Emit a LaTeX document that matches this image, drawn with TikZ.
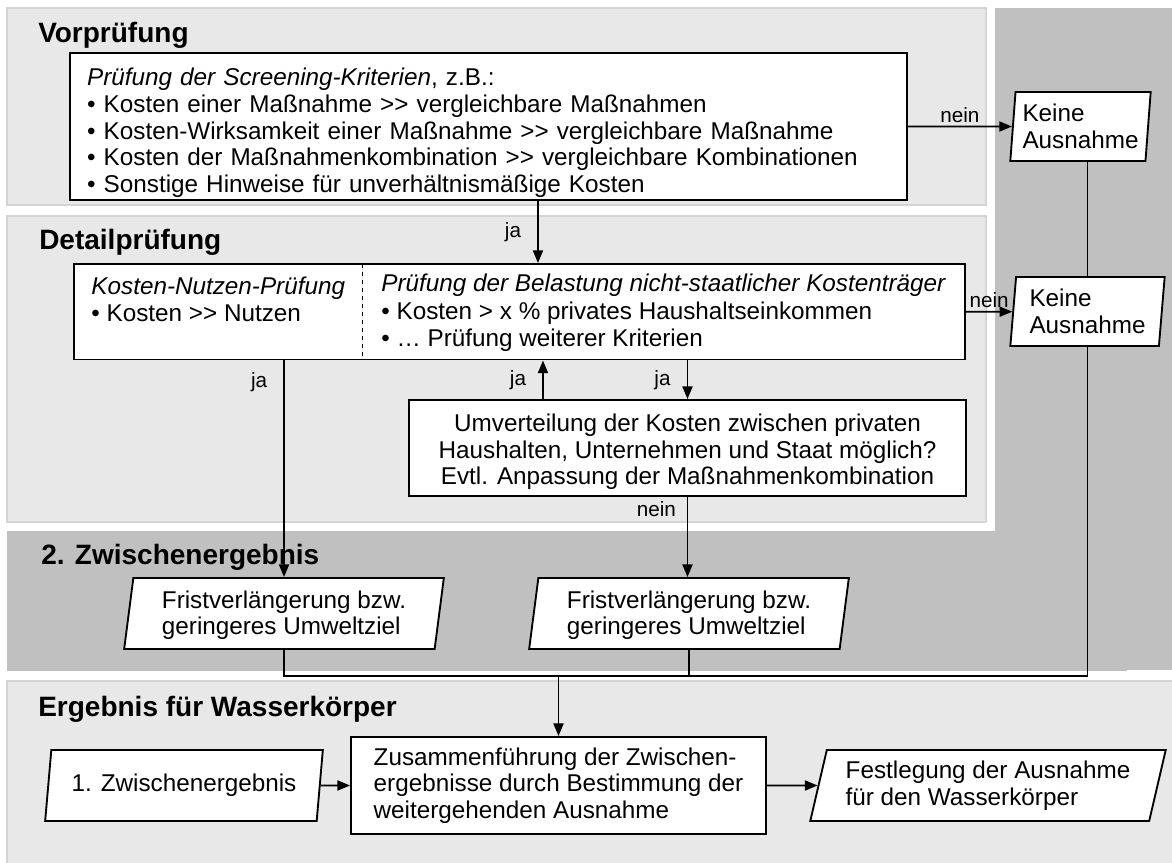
\documentclass[tikz,border=0pt]{standalone}
\usepackage{fontspec}
\setmainfont{Liberation Sans}
\usepackage{tikz}
\usetikzlibrary{arrows.meta,shapes.geometric,fit,calc}
\definecolor{panel}{HTML}{E8E8E8}
\definecolor{panelline}{HTML}{D4D4D4}
\definecolor{dark}{HTML}{C0C0C0}
\newcommand{\grgr}{>{}>}
\tikzset{
  pnl/.style={fill=panel, draw=panelline, line width=0.8pt},
  pnldark/.style={fill=dark, draw=none},
  ttl/.style={anchor=west, inner sep=0pt, font=\fontsize{21}{25}\selectfont\bfseries},
  box/.style={draw=black, fill=white, line width=1.4pt, inner sep=0pt, font=\fontsize{18.2}{20}\selectfont},
  txt/.style={fill=white, inner sep=0pt, align=left, font=\fontsize{18.2}{20.5}\selectfont},
  para/.style 2 args={box, trapezium, trapezium stretches=true, trapezium left angle=#1, trapezium right angle=#2, align=left},
  ln/.style={draw=black, line width=1.4pt},
  arr/.style={ln, -{Triangle[length=9.5pt,width=7.5pt]}},
  lab/.style={inner sep=2pt, font=\fontsize{15.5}{17}\selectfont},
}
\begin{document}
\begin{tikzpicture}[x=0.75pt, y=-0.75pt]
  \useasboundingbox (0,0) rectangle (1172,863);
  \fill[pnldark] (995,8) rectangle (1172,670);
  \fill[pnldark] (7,531) rectangle (1127,671);
  \draw[pnl] (7,8) rectangle (986,205);
  \draw[pnl] (7,216) rectangle (986,522);
  \draw[pnl] (7,681) rectangle (1180,870);

  \node[ttl] (tvor) at (38,35) {Vorprüfung};
  \node[ttl] (tdet) at (39,242) {Detailprüfung};
  \node[ttl] (tzw) at (41,557) {2. Zwischenergebnis};
  \node[ttl] (terg) at (38,709) {Ergebnis für Wasserkörper};

  \node[box, align=left, text width=602pt, inner xsep=12.75pt, minimum height=110.25pt] (vor) at (488.5,126.5)
    {\rule{0pt}{23pt}\textit{Prüfung der Screening-Kriterien}, z.B.:\\
     • Kosten einer Maßnahme \grgr{} vergleichbare Maßnahmen\\
     • Kosten-Wirksamkeit einer Maßnahme \grgr{} vergleichbare Maßnahme\\
     • Kosten der Maßnahmenkombination \grgr{} vergleichbare Kombinationen\\
     • Sonstige Hinweise für unverhältnismäßige Kosten};
  \node[para={84}{96}, minimum width=105.75pt, minimum height=51.75pt] (keine1) at (1080.5,126.5) {Keine\\Ausnahme};

  \node[txt, minimum width=216pt, minimum height=71.25pt, anchor=north west] (knp) at (74,264)
    {\rule{0pt}{15pt}\textit{Kosten-Nutzen-Prüfung}\\• Kosten \grgr{} Nutzen\\\mbox{}};
  \node[txt, minimum width=451.5pt, minimum height=71.25pt, anchor=north west] (bel) at (knp.north east)
    {\rule{0pt}{15pt}\textit{Prüfung der Belastung nicht-staatlicher Kostenträger}\\• Kosten > x \% privates Haushaltseinkommen\\• … Prüfung weiterer Kriterien};
  \node[box, fill=none, fit=(knp)(bel)] (detail) {};
  \draw[dashed, line width=0.8pt] (knp.north east) -- (knp.south east);
  \node[para={84}{96}, minimum width=116.25pt, minimum height=51.75pt] (keine2) at (1087.5,311.5) {Keine\\Ausnahme};
  \node[box, align=center, minimum width=417.75pt, minimum height=72pt] (umv) at (687.5,448)
    {\rule{0pt}{19pt}Umverteilung der Kosten zwischen privaten\\Haushalten, Unternehmen und Staat möglich?\\Evtl. Anpassung der Maßnahmenkombination};

  \node[para={82}{98}, minimum width=240pt, minimum height=53.25pt] (frist1) at (284,613.5) {\rule{0pt}{16pt}Fristverlängerung bzw.\\geringeres Umweltziel};
  \node[para={82}{98}, minimum width=240pt, minimum height=53.25pt] (frist2) at (689,613.5) {\rule{0pt}{16pt}Fristverlängerung bzw.\\geringeres Umweltziel};

  \node[para={77}{103}, minimum width=208.5pt, minimum height=53.25pt] (erg1) at (184,785.5) {1. Zwischenergebnis};
  \node[box, align=left, minimum width=311.25pt, minimum height=72.75pt] (zus) at (558.5,785.5)
    {Zusammenführung der Zwischen-\\ergebnisse durch Bestimmung der\\weitergehenden Ausnahme};
  \node[para={73.5}{106.5}, minimum width=267pt, minimum height=53.25pt] (fest) at (988,785.5) {Festlegung der Ausnahme\\für den Wasserkörper};
  \coordinate (mrg) at ([yshift=45pt]zus.north);

  \draw[arr] (vor.east) -- (keine1) node[lab, midway, above] {nein};
  \draw[arr] ([xshift=37.1pt]vor.south) -- ([xshift=37.1pt]vor.south |- detail.north) node[lab, midway, left=10pt] {ja};
  \draw[arr] (detail.east) -- (keine2) node[lab, midway, above] {nein};
  \draw[ln] (keine2.center |- keine1.south) -- (keine2.center |- keine2.north);
  \draw[arr] (frist1.south |- detail.south) -- (frist1.south |- frist1.north) node[lab, pos=0.1, left=10pt] {ja};
  \draw[arr] ([xshift=-108.4pt]umv.north) -- ([xshift=-108.4pt]umv.north |- detail.south) node[lab, midway, left=10pt] {ja};
  \draw[arr] (umv.north |- detail.south) -- (umv.north) node[lab, midway, left=10pt] {ja};
  \draw[arr] (umv.south) -- (umv.south |- frist2.north) node[lab, pos=0.15, left=6pt] {nein};
  \draw[ln] (frist1.south) |- (keine2.center |- mrg) -- (keine2.center |- keine2.south);
  \draw[ln] (frist2.south) -- (frist2.south |- mrg);
  \draw[arr] (mrg) -- (zus);
  \draw[arr] (erg1) -- (zus);
  \draw[arr] (zus) -- (fest);
\end{tikzpicture}
\end{document}
